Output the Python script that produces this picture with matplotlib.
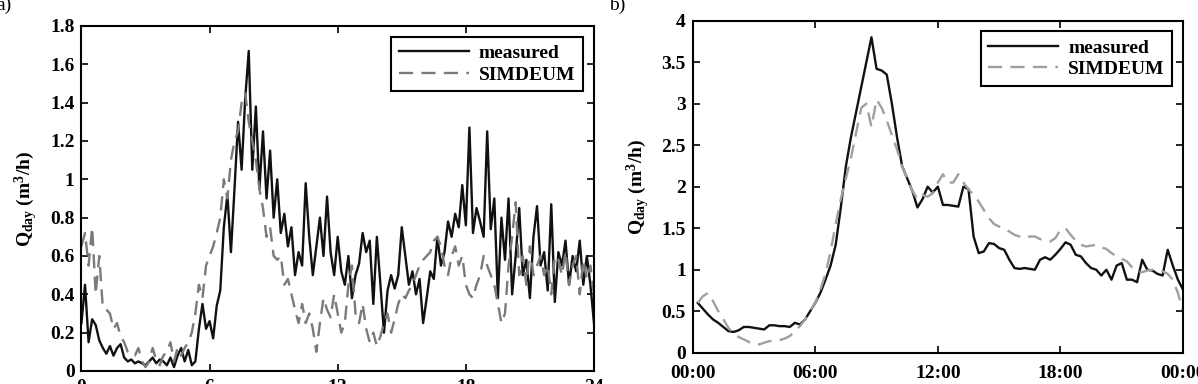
import numpy as np
import matplotlib; matplotlib.use("Agg"); import matplotlib.pyplot as plt

plt.rcParams['font.family']='Liberation Serif'; plt.rcParams['font.weight']='bold'
plt.rcParams['mathtext.fontset']='custom'
for k in ('rm','it','bf'): plt.rcParams['mathtext.'+k]='Liberation Serif:bold'

# (a) 10-min values over 24 h
meas_a=[0.25,0.45,0.15,0.27,0.24,0.16,0.12,0.09,0.13,0.08,0.12,0.14,0.07,0.05,0.06,0.04,0.05,0.04,0.03,0.05,
        0.07,0.04,0.06,0.05,0.03,0.07,0.02,0.08,0.12,0.05,0.11,0.03,0.05,0.22,0.35,0.22,0.26,0.17,0.34,0.42,
        0.75,0.92,0.62,0.95,1.30,1.05,1.42,1.67,1.05,1.38,0.95,1.25,0.90,1.15,0.80,1.00,0.72,0.82,0.65,0.75,
        0.50,0.62,0.55,0.98,0.70,0.50,0.65,0.80,0.60,0.91,0.62,0.50,0.70,0.52,0.45,0.60,0.38,0.50,0.56,0.72,
        0.62,0.68,0.35,0.70,0.45,0.20,0.42,0.50,0.43,0.50,0.75,0.60,0.45,0.52,0.40,0.48,0.25,0.38,0.52,0.48,
        0.70,0.55,0.62,0.78,0.70,0.82,0.75,0.97,0.76,1.27,0.72,0.85,0.78,0.70,1.25,0.74,0.90,0.38,0.80,0.58,
        0.90,0.40,0.60,0.85,0.50,0.58,0.38,0.70,0.86,0.55,0.62,0.42,0.87,0.36,0.62,0.55,0.68,0.45,0.60,0.52,
        0.68,0.45,0.60,0.45,0.25]
sim_a=[0.65,0.72,0.55,0.75,0.40,0.60,0.33,0.32,0.30,0.22,0.25,0.18,0.15,0.10,0.08,0.08,0.12,0.05,0.02,0.05,
       0.12,0.06,0.03,0.08,0.10,0.15,0.05,0.12,0.08,0.12,0.15,0.20,0.30,0.45,0.38,0.55,0.60,0.65,0.72,0.80,
       1.00,0.90,1.10,1.20,1.25,1.40,1.45,1.30,1.20,1.10,0.95,0.85,0.70,0.75,0.60,0.58,0.60,0.45,0.48,0.40,
       0.32,0.25,0.35,0.25,0.30,0.22,0.10,0.25,0.38,0.32,0.28,0.40,0.30,0.20,0.25,0.45,0.55,0.30,0.25,0.35,
       0.22,0.15,0.20,0.13,0.18,0.25,0.30,0.20,0.27,0.35,0.40,0.38,0.42,0.45,0.50,0.55,0.58,0.60,0.62,0.68,
       0.70,0.65,0.55,0.50,0.60,0.65,0.55,0.60,0.45,0.40,0.38,0.45,0.50,0.60,0.55,0.50,0.45,0.35,0.25,0.30,
       0.55,0.70,0.88,0.50,0.60,0.45,0.65,0.50,0.55,0.60,0.50,0.55,0.40,0.60,0.58,0.50,0.62,0.45,0.55,0.60,
       0.40,0.58,0.48,0.55,0.40]
t_a=np.arange(len(meas_a))/6.0

# (b) 15-min values, 00:15 .. 24:00
meas_b=[0.60,0.53,0.46,0.40,0.36,0.31,0.26,0.25,0.27,0.31,0.31,0.30,0.29,0.28,0.33,0.33,0.32,0.32,0.31,0.36,
        0.34,0.40,0.50,0.60,0.72,0.88,1.05,1.30,1.75,2.25,2.60,2.90,3.20,3.50,3.80,3.42,3.40,3.35,3.00,2.60,
        2.25,2.10,1.95,1.75,1.85,2.00,1.93,2.00,1.78,1.78,1.77,1.76,2.00,1.97,1.40,1.20,1.22,1.32,1.31,1.26,
        1.24,1.12,1.02,1.01,1.02,1.01,1.00,1.12,1.15,1.12,1.18,1.25,1.33,1.30,1.18,1.16,1.08,1.02,1.00,0.93,
        1.00,0.88,1.05,1.08,0.88,0.88,0.85,1.12,1.00,0.99,0.95,0.93,1.24,1.05,0.88,0.76]
sim_b=[0.60,0.68,0.72,0.62,0.50,0.40,0.30,0.23,0.19,0.16,0.13,0.10,0.10,0.12,0.14,0.14,0.15,0.17,0.20,0.26,
       0.32,0.40,0.50,0.60,0.76,0.95,1.22,1.55,1.85,2.10,2.35,2.65,2.95,3.00,2.72,3.05,2.95,2.80,2.62,2.45,
       2.25,2.10,1.95,1.85,1.90,1.88,1.92,2.05,2.15,2.05,2.05,2.15,2.05,1.97,1.90,1.82,1.72,1.62,1.55,1.52,
       1.50,1.46,1.42,1.40,1.38,1.40,1.40,1.37,1.35,1.34,1.38,1.48,1.50,1.42,1.35,1.30,1.28,1.29,1.30,1.27,
       1.25,1.20,1.16,1.13,1.10,1.03,0.98,0.97,0.99,1.00,0.99,0.98,0.95,0.88,0.72,0.50]
t_b=(np.arange(len(meas_b))+1)/4.0

xt_a=[0,6,12,18,24]; xl_a=['0','6','12','18','24']
xt_b=[0,6,12,18,24]; xl_b=['00:00','06:00','12:00','18:00','00:00']
yt_a=[0,0.2,0.4,0.6,0.8,1,1.2,1.4,1.6,1.8]; yl_a=['0','0.2','0.4','0.6','0.8','1','1.2','1.4','1.6','1.8']
yt_b=[0,0.5,1,1.5,2,2.5,3,3.5,4]; yl_b=['0','0.5','1','1.5','2','2.5','3','3.5','4']
FS=14

fig=plt.figure(figsize=(11.98,3.84),dpi=100)
axa=fig.add_axes([0.068,0.0339,0.4278,0.8984])
axb=fig.add_axes([0.5782,0.0815,0.4093,0.8646])

def style(ax,xt,xl,yt,yl,ylim,xpad):
    ax.set_xlim(0,24); ax.set_ylim(*ylim)
    ax.set_xticks(xt); ax.set_xticklabels(xl)
    ax.set_yticks(yt); ax.set_yticklabels(yl)
    ax.tick_params(direction='in',top=True,right=True,length=5,width=1.2,labelsize=FS,pad=5)
    ax.tick_params(axis='x',pad=xpad)
    for s in ax.spines.values(): s.set_linewidth(1.5)
    ax.set_ylabel(r'Q$_{day}$ (m$^{3}$/h)',fontsize=FS,fontweight='bold',labelpad=7)
    leg=ax.legend(loc='upper right',fontsize=FS,handlelength=3.6,handletextpad=0.5,borderaxespad=0.55,
                  fancybox=False,edgecolor='black',framealpha=1,labelspacing=0.2,borderpad=0.4)
    leg.get_frame().set_linewidth(1.5)

axa.plot(t_a,meas_a,color='#111111',lw=1.7,label='measured')
axa.plot(t_a,sim_a,color='#7a7a7a',lw=1.7,ls=(0,(6,3.5)),label='SIMDEUM')
style(axa,xt_a,xl_a,yt_a,yl_a,(0,1.8),6)

axb.plot(t_b,meas_b,color='#111111',lw=1.7,label='measured')
axb.plot(t_b,sim_b,color='#a0a0a0',lw=1.7,ls=(0,(6,3.5)),label='SIMDEUM')
style(axb,xt_b,xl_b,yt_b,yl_b,(0,4),9)

fig.text(-0.003,0.985,'a)',fontsize=FS,fontweight='normal',va='center',ha='left')
fig.text(0.508,0.985,'b)',fontsize=FS,fontweight='normal',va='center',ha='left')
fig.savefig('out.png',dpi=100)
